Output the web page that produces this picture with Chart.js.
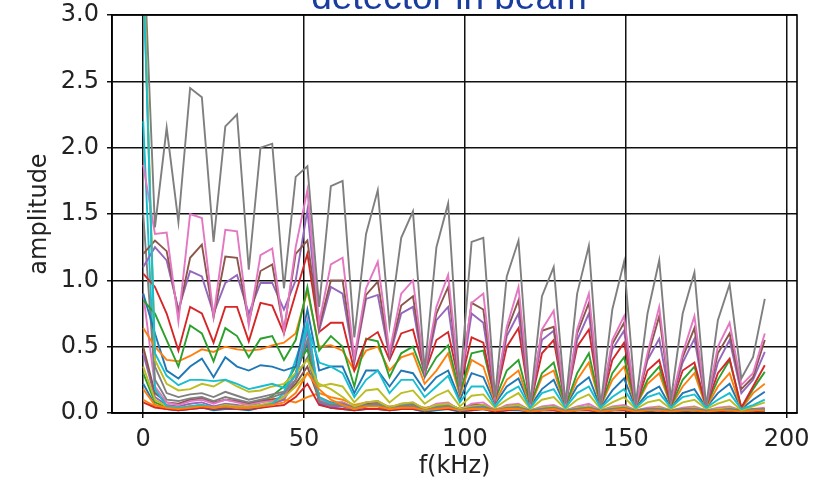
<!DOCTYPE html>
<html>
<head>
<meta charset="utf-8">
<script src="https://cdn.jsdelivr.net/npm/chart.js@4/dist/chart.umd.min.js"></script>
<style>
  html, body { margin: 0; padding: 0; background: #fff; }
  #wrap { width: 831px; height: 481px; }
</style>
</head>
<body>
<div id="wrap"><canvas id="myChart" width="831" height="481"></canvas></div>
<script>
// frequency bins (kHz)
var freqs = [0, 3.65, 7.29, 10.94, 14.58, 18.23, 21.87, 25.52, 29.16, 32.81, 36.45, 40.10, 43.74, 47.39, 51.03, 54.68, 58.32, 61.97, 65.61, 69.26, 72.90, 76.55, 80.19, 83.84, 87.48, 91.13, 94.77, 98.42, 102.06, 105.71, 109.35, 113.00, 116.64, 120.29, 123.93, 127.58, 131.22, 134.87, 138.51, 142.16, 145.80, 149.45, 153.09, 156.74, 160.38, 164.03, 167.67, 171.32, 174.96, 178.61, 182.25, 185.90, 189.54, 193.19];

// low-level channels
var lowGray = [3.4, 0.35, 0.15, 0.12, 0.14, 0.15, 0.12, 0.16, 0.13, 0.10, 0.12, 0.14, 0.16, 0.30, 0.55, 0.12, 0.08, 0.07, 0.04, 0.06, 0.07, 0.04, 0.06, 0.07, 0.03, 0.05, 0.06, 0.03, 0.05, 0.06, 0.02, 0.05, 0.06, 0.02, 0.04, 0.05, 0.02, 0.04, 0.05, 0.02, 0.04, 0.05, 0.02, 0.03, 0.04, 0.02, 0.03, 0.04, 0.02, 0.03, 0.04, 0.02, 0.03, 0.03];
var lowPink = [0.9, 0.20, 0.08, 0.06, 0.09, 0.10, 0.07, 0.10, 0.08, 0.06, 0.08, 0.09, 0.12, 0.30, 0.70, 0.10, 0.07, 0.08, 0.04, 0.08, 0.09, 0.04, 0.07, 0.08, 0.03, 0.07, 0.08, 0.02, 0.07, 0.08, 0.02, 0.06, 0.07, 0.02, 0.05, 0.06, 0.02, 0.05, 0.07, 0.02, 0.05, 0.06, 0.02, 0.04, 0.05, 0.02, 0.04, 0.05, 0.02, 0.04, 0.05, 0.02, 0.03, 0.04];
var lowPurple = [0.45, 0.12, 0.06, 0.05, 0.07, 0.08, 0.05, 0.07, 0.06, 0.04, 0.06, 0.07, 0.10, 0.25, 0.62, 0.08, 0.05, 0.05, 0.03, 0.05, 0.06, 0.03, 0.05, 0.05, 0.02, 0.04, 0.05, 0.02, 0.04, 0.05, 0.02, 0.04, 0.05, 0.02, 0.03, 0.04, 0.02, 0.03, 0.04, 0.02, 0.03, 0.04, 0.02, 0.03, 0.03, 0.02, 0.03, 0.03, 0.02, 0.02, 0.03, 0.02, 0.02, 0.03];
var lowOrange = [0.10, 0.05, 0.03, 0.04, 0.05, 0.04, 0.05, 0.06, 0.05, 0.07, 0.09, 0.11, 0.10, 0.08, 0.12, 0.15, 0.12, 0.10, 0.06, 0.08, 0.07, 0.05, 0.06, 0.06, 0.04, 0.05, 0.05, 0.03, 0.04, 0.05, 0.03, 0.04, 0.04, 0.02, 0.03, 0.04, 0.02, 0.03, 0.04, 0.02, 0.03, 0.03, 0.02, 0.03, 0.03, 0.02, 0.02, 0.03, 0.02, 0.02, 0.03, 0.02, 0.02, 0.02];
var lowRed = [0.08, 0.04, 0.03, 0.02, 0.03, 0.04, 0.03, 0.04, 0.03, 0.03, 0.04, 0.05, 0.06, 0.12, 0.22, 0.06, 0.04, 0.03, 0.02, 0.03, 0.03, 0.02, 0.03, 0.03, 0.02, 0.03, 0.03, 0.02, 0.02, 0.03, 0.01, 0.02, 0.03, 0.01, 0.02, 0.02, 0.01, 0.02, 0.02, 0.01, 0.02, 0.02, 0.01, 0.02, 0.02, 0.01, 0.02, 0.02, 0.01, 0.01, 0.02, 0.01, 0.01, 0.02];
var lowGreen = [0.30, 0.08, 0.04, 0.03, 0.05, 0.06, 0.04, 0.05, 0.04, 0.05, 0.08, 0.13, 0.20, 0.35, 0.48, 0.09, 0.06, 0.05, 0.03, 0.05, 0.05, 0.02, 0.04, 0.05, 0.02, 0.04, 0.04, 0.02, 0.03, 0.04, 0.02, 0.03, 0.04, 0.01, 0.03, 0.03, 0.01, 0.03, 0.03, 0.01, 0.02, 0.03, 0.01, 0.02, 0.03, 0.01, 0.02, 0.02, 0.01, 0.02, 0.02, 0.01, 0.02, 0.02];
var lowBlue = [0.22, 0.06, 0.03, 0.02, 0.03, 0.04, 0.02, 0.03, 0.03, 0.02, 0.04, 0.06, 0.12, 0.30, 0.52, 0.07, 0.04, 0.03, 0.02, 0.03, 0.03, 0.02, 0.03, 0.03, 0.01, 0.02, 0.03, 0.01, 0.02, 0.03, 0.01, 0.02, 0.02, 0.01, 0.02, 0.02, 0.01, 0.02, 0.02, 0.01, 0.02, 0.02, 0.01, 0.01, 0.02, 0.01, 0.01, 0.02, 0.01, 0.01, 0.02, 0.01, 0.01, 0.01];
var lowBrown = [0.5, 0.15, 0.08, 0.07, 0.10, 0.11, 0.08, 0.10, 0.09, 0.07, 0.09, 0.10, 0.12, 0.22, 0.35, 0.10, 0.08, 0.08, 0.04, 0.07, 0.08, 0.04, 0.06, 0.07, 0.03, 0.06, 0.07, 0.03, 0.06, 0.06, 0.02, 0.05, 0.06, 0.02, 0.04, 0.05, 0.02, 0.04, 0.05, 0.02, 0.04, 0.05, 0.02, 0.03, 0.04, 0.02, 0.03, 0.04, 0.02, 0.03, 0.04, 0.02, 0.02, 0.03];
var lowOlive = [0.35, 0.10, 0.05, 0.04, 0.05, 0.06, 0.04, 0.06, 0.05, 0.05, 0.06, 0.08, 0.12, 0.20, 0.30, 0.22, 0.18, 0.12, 0.05, 0.08, 0.09, 0.04, 0.07, 0.08, 0.03, 0.06, 0.07, 0.03, 0.05, 0.06, 0.02, 0.05, 0.06, 0.02, 0.04, 0.05, 0.02, 0.04, 0.05, 0.02, 0.04, 0.05, 0.02, 0.03, 0.04, 0.02, 0.03, 0.04, 0.02, 0.03, 0.04, 0.02, 0.02, 0.03];
var lowCyan = [2.2, 0.18, 0.05, 0.04, 0.05, 0.06, 0.04, 0.05, 0.04, 0.04, 0.05, 0.07, 0.15, 0.40, 0.68, 0.12, 0.07, 0.06, 0.03, 0.05, 0.06, 0.03, 0.05, 0.05, 0.02, 0.04, 0.05, 0.02, 0.04, 0.04, 0.02, 0.03, 0.04, 0.02, 0.03, 0.04, 0.02, 0.03, 0.04, 0.02, 0.03, 0.03, 0.02, 0.03, 0.03, 0.02, 0.02, 0.03, 0.02, 0.02, 0.03, 0.02, 0.02, 0.03];
var lowGray2 = [1.5, 0.25, 0.10, 0.09, 0.11, 0.12, 0.09, 0.12, 0.10, 0.08, 0.10, 0.12, 0.15, 0.25, 0.42, 0.09, 0.06, 0.06, 0.03, 0.05, 0.06, 0.03, 0.05, 0.05, 0.02, 0.04, 0.05, 0.02, 0.04, 0.05, 0.02, 0.04, 0.04, 0.02, 0.03, 0.04, 0.02, 0.03, 0.04, 0.02, 0.03, 0.04, 0.02, 0.03, 0.03, 0.02, 0.03, 0.03, 0.02, 0.02, 0.03, 0.02, 0.02, 0.03];
var lowOrange2 = [0.18, 0.06, 0.04, 0.03, 0.04, 0.05, 0.04, 0.05, 0.04, 0.04, 0.05, 0.06, 0.08, 0.15, 0.30, 0.18, 0.10, 0.06, 0.03, 0.05, 0.05, 0.03, 0.04, 0.04, 0.02, 0.03, 0.04, 0.02, 0.03, 0.03, 0.02, 0.03, 0.03, 0.01, 0.02, 0.03, 0.01, 0.02, 0.03, 0.01, 0.02, 0.03, 0.01, 0.02, 0.02, 0.01, 0.02, 0.02, 0.01, 0.02, 0.02, 0.01, 0.02, 0.02];

// main channels
var blueCh = [0.90, 0.60, 0.32, 0.26, 0.35, 0.41, 0.27, 0.42, 0.35, 0.32, 0.36, 0.35, 0.32, 0.35, 0.78, 0.32, 0.35, 0.35, 0.15, 0.32, 0.32, 0.20, 0.32, 0.30, 0.17, 0.27, 0.32, 0.10, 0.30, 0.27, 0.07, 0.20, 0.26, 0.05, 0.18, 0.25, 0.05, 0.20, 0.27, 0.04, 0.17, 0.26, 0.04, 0.15, 0.20, 0.04, 0.15, 0.18, 0.04, 0.15, 0.22, 0.03, 0.10, 0.16];
var orangeCh = [0.64, 0.50, 0.40, 0.39, 0.43, 0.48, 0.46, 0.50, 0.48, 0.47, 0.48, 0.51, 0.53, 0.60, 0.92, 0.50, 0.51, 0.47, 0.32, 0.47, 0.50, 0.32, 0.42, 0.45, 0.22, 0.32, 0.45, 0.13, 0.40, 0.35, 0.08, 0.25, 0.32, 0.05, 0.27, 0.32, 0.05, 0.25, 0.38, 0.05, 0.25, 0.35, 0.05, 0.22, 0.30, 0.05, 0.20, 0.30, 0.04, 0.20, 0.30, 0.03, 0.15, 0.22];
var greenCh = [0.85, 0.75, 0.55, 0.35, 0.66, 0.60, 0.39, 0.64, 0.58, 0.42, 0.56, 0.58, 0.40, 0.55, 0.95, 0.47, 0.58, 0.50, 0.20, 0.56, 0.54, 0.27, 0.45, 0.50, 0.27, 0.42, 0.51, 0.15, 0.45, 0.47, 0.10, 0.32, 0.40, 0.06, 0.30, 0.38, 0.05, 0.30, 0.45, 0.05, 0.30, 0.42, 0.05, 0.25, 0.35, 0.05, 0.25, 0.35, 0.05, 0.25, 0.40, 0.04, 0.18, 0.31];
var redCh = [1.05, 0.95, 0.75, 0.47, 0.80, 0.75, 0.53, 0.80, 0.80, 0.54, 0.83, 0.81, 0.60, 0.90, 1.20, 0.61, 0.68, 0.68, 0.32, 0.55, 0.61, 0.40, 0.60, 0.63, 0.30, 0.55, 0.61, 0.20, 0.57, 0.53, 0.10, 0.50, 0.64, 0.06, 0.45, 0.55, 0.06, 0.50, 0.63, 0.05, 0.40, 0.53, 0.05, 0.32, 0.40, 0.06, 0.32, 0.38, 0.05, 0.30, 0.41, 0.04, 0.20, 0.36];
var purpleCh = [1.10, 1.25, 1.15, 0.78, 1.07, 1.03, 0.75, 0.98, 1.04, 0.75, 0.98, 0.98, 0.78, 1.00, 1.53, 0.62, 0.95, 0.90, 0.38, 0.86, 0.89, 0.42, 0.75, 0.80, 0.28, 0.70, 0.80, 0.17, 0.75, 0.68, 0.10, 0.58, 0.75, 0.06, 0.55, 0.62, 0.05, 0.55, 0.75, 0.05, 0.48, 0.62, 0.05, 0.40, 0.56, 0.07, 0.38, 0.56, 0.05, 0.38, 0.55, 0.15, 0.25, 0.46];
var brownCh = [1.20, 1.30, 1.22, 0.75, 1.17, 1.27, 0.72, 1.18, 1.17, 0.68, 1.07, 1.12, 0.62, 1.20, 1.30, 0.65, 1.00, 1.00, 0.40, 0.89, 0.99, 0.44, 0.81, 0.88, 0.30, 0.75, 0.95, 0.18, 0.83, 0.78, 0.11, 0.62, 0.85, 0.06, 0.62, 0.65, 0.06, 0.60, 0.83, 0.05, 0.52, 0.68, 0.05, 0.42, 0.73, 0.07, 0.42, 0.64, 0.05, 0.45, 0.60, 0.18, 0.27, 0.55];
var pinkCh = [1.87, 1.35, 1.36, 0.69, 1.50, 1.47, 0.73, 1.38, 1.37, 0.66, 1.19, 1.24, 0.61, 1.25, 1.68, 0.68, 1.12, 1.17, 0.42, 0.94, 1.14, 0.46, 0.90, 1.00, 0.32, 0.80, 1.04, 0.20, 0.83, 0.90, 0.12, 0.65, 0.95, 0.07, 0.63, 0.77, 0.06, 0.63, 0.90, 0.05, 0.55, 0.73, 0.05, 0.45, 0.80, 0.08, 0.45, 0.73, 0.05, 0.50, 0.68, 0.21, 0.30, 0.60];
var grayCh = [3.6, 1.40, 2.15, 1.44, 2.45, 2.38, 1.29, 2.16, 2.25, 1.08, 2.00, 2.03, 0.94, 1.78, 1.86, 0.80, 1.71, 1.75, 0.57, 1.35, 1.68, 0.66, 1.32, 1.52, 0.32, 1.25, 1.58, 0.20, 1.29, 1.32, 0.12, 1.03, 1.30, 0.07, 0.88, 1.10, 0.07, 0.90, 1.26, 0.05, 0.78, 1.14, 0.07, 0.75, 1.15, 0.10, 0.75, 1.06, 0.05, 0.70, 0.97, 0.26, 0.42, 0.86];
var oliveCh = [3.5, 0.40, 0.22, 0.17, 0.18, 0.22, 0.20, 0.25, 0.20, 0.16, 0.17, 0.20, 0.22, 0.30, 0.40, 0.20, 0.22, 0.20, 0.08, 0.17, 0.18, 0.08, 0.15, 0.17, 0.07, 0.13, 0.17, 0.05, 0.13, 0.14, 0.04, 0.10, 0.15, 0.03, 0.10, 0.12, 0.03, 0.10, 0.14, 0.03, 0.08, 0.12, 0.03, 0.08, 0.10, 0.03, 0.08, 0.10, 0.03, 0.07, 0.10, 0.02, 0.05, 0.08];
var cyanCh = [3.3, 0.45, 0.28, 0.21, 0.25, 0.25, 0.24, 0.25, 0.22, 0.18, 0.20, 0.22, 0.19, 0.28, 0.65, 0.38, 0.35, 0.30, 0.12, 0.25, 0.32, 0.15, 0.25, 0.25, 0.12, 0.20, 0.28, 0.08, 0.20, 0.20, 0.05, 0.15, 0.20, 0.04, 0.15, 0.18, 0.04, 0.15, 0.20, 0.04, 0.12, 0.18, 0.04, 0.12, 0.15, 0.04, 0.12, 0.14, 0.04, 0.10, 0.15, 0.03, 0.06, 0.10];

var xTicks = [0, 50, 100, 150, 200];
var yTicks = [0, 0.5, 1.0, 1.5, 2.0, 2.5, 3.0];

// plotting order (later ones on top), same colour cycle as matplotlib
var series = [lowBlue, lowOrange, lowGreen, lowRed, lowPurple, lowBrown, lowPink, lowGray, lowOlive, lowCyan, lowGray2, lowOrange2,
              blueCh, orangeCh, greenCh, redCh, purpleCh, brownCh, pinkCh, grayCh, oliveCh, cyanCh];
var colors = ["#1f77b4", "#ff7f0e", "#2ca02c", "#d62728", "#9467bd", "#8c564b", "#e377c2", "#7f7f7f", "#bcbd22", "#17becf", "#7f7f7f", "#ff7f0e",
              "#1f77b4", "#ff7f0e", "#2ca02c", "#d62728", "#9467bd", "#8c564b", "#e377c2", "#7f7f7f", "#bcbd22", "#17becf"];

var datasets = series.map(function (vals, i) {
  return {
    data: vals.map(function (v, k) { return {x: freqs[k], y: v}; }),
    borderColor: colors[i],
    borderWidth: 1.9,
    pointRadius: 0,
    tension: 0,
    fill: false,
    order: -i
  };
});

var frame = {
  id: "frame",
  afterDraw: function (chart) {
    var ctx = chart.ctx, a = chart.chartArea;
    ctx.save();
    ctx.strokeStyle = "#000";
    ctx.lineWidth = 1.6;
    ctx.strokeRect(a.left, a.top, a.right - a.left, a.bottom - a.top);
    ctx.fillStyle = "#1a3c9f";
    ctx.font = '37px "Liberation Sans", Arial, sans-serif';
    ctx.textAlign = "center";
    ctx.textBaseline = "alphabetic";
    ctx.fillText("detector in beam", 449, 9);
    ctx.restore();
  }
};

var tickFont = {family: "'DejaVu Sans', sans-serif", size: 24};

new Chart("myChart", {
  type: "line",
  data: {datasets: datasets},
  options: {
    responsive: false,
    animation: false,
    layout: {padding: {top: 15, right: 34, left: 0, bottom: 0}},
    plugins: {legend: {display: false}, tooltip: {enabled: false}, title: {display: false}},
    scales: {
      x: {
        type: "linear",
        min: -9.7,
        max: 203.2,
        afterBuildTicks: function (s) { s.ticks = xTicks.map(function (v) { return {value: v}; }); },
        afterFit: function (s) { s.height = 68; s.paddingLeft = 0; s.paddingRight = 0; },
        ticks: {color: "#222", font: tickFont, padding: 7, maxRotation: 0,
                callback: function (v) { return String(v); }},
        grid: {color: "#111", lineWidth: 1.5, tickLength: 5, tickColor: "#111"},
        border: {color: "#000", width: 1.6},
        title: {display: true, text: "f(kHz)", color: "#222", font: tickFont, padding: {top: 0, bottom: 0}}
      },
      y: {
        min: 0,
        max: 3.0,
        afterBuildTicks: function (s) { s.ticks = yTicks.map(function (v) { return {value: v}; }); },
        afterFit: function (s) { s.width = 112; s.paddingTop = 0; s.paddingBottom = 0; },
        ticks: {color: "#222", font: tickFont, padding: 8,
                callback: function (v) { return Number(v).toFixed(1); }},
        grid: {color: "#111", lineWidth: 1.5, tickLength: 5, tickColor: "#111"},
        border: {color: "#000", width: 1.6},
        title: {display: true, text: "amplitude", color: "#222", font: tickFont, padding: {top: 25, bottom: 0}}
      }
    }
  },
  plugins: [frame]
});
</script>
</body>
</html>
